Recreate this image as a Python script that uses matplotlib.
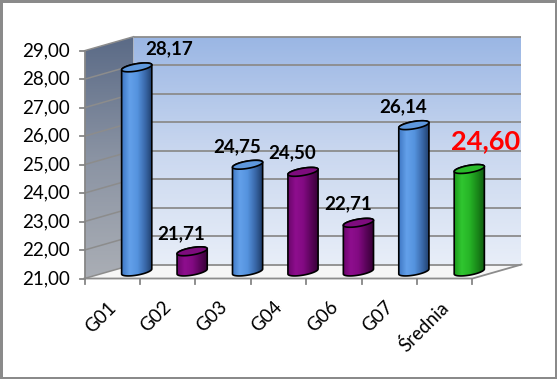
import numpy as np
import matplotlib
matplotlib.use("Agg")
import matplotlib.pyplot as plt
from matplotlib.patches import Polygon, Rectangle
from matplotlib.colors import LinearSegmentedColormap

# ---------------- data ----------------
categories = ["G01", "G02", "G03", "G04", "G06", "G07", "Średnia"]
values = [28.17, 21.71, 24.75, 24.50, 22.71, 26.14, 24.60]
value_labels = ["28,17", "21,71", "24,75", "24,50", "22,71", "26,14", "24,60"]
groups = ["blue", "purple", "blue", "purple", "purple", "blue", "green"]
y_ticks = [21, 22, 23, 24, 25, 26, 27, 28, 29]
y_tick_labels = ["21,00", "22,00", "23,00", "24,00", "25,00", "26,00", "27,00", "28,00", "29,00"]

# ---------------- styles / layout ----------------
label_offsets_px = [(32, 18.5), (-11, 18), (-10.5, 18), (-11, 19), (-10.5, 19), (-10.5, 18), (16, 28)]
label_styles = [dict(color="black", size=13.5)] * 6 + [dict(color="#ff0000", size=19.5)]
body_stops = {
    "blue": ["#3f78c4", "#63a0ea", "#5593de", "#3a69aa", "#1d3a64"],
    "purple": ["#6a066a", "#8e0e8e", "#820a82", "#5a045a", "#330033"],
    "green": ["#1c9a1c", "#30c630", "#27b527", "#1a8a1a", "#0f5a0f"],
}
top_colors = {"blue": "#5e98dd", "purple": "#7e0c7e", "green": "#2bbb2b"}

plt.rcParams["font.family"] = ["Lato", "DejaVu Sans"]

W, H = 557, 379
fig = plt.figure(figsize=(W / 100, H / 100), dpi=100)
fig.patch.set_facecolor("white")
ax = fig.add_axes([109 / W, (H - 271.5) / H, 388 / W, 227.75 / H])
n = len(categories)
ax.set_xlim(-0.5, n - 0.5)
ax.set_ylim(y_ticks[0], y_ticks[-1])
ax.axis("off")

ux = n / 388.0       # data units per pixel (x)
uy = (y_ticks[-1] - y_ticks[0]) / 227.75  # data units per pixel (y)
DX, DY = 24.5, 7.0   # half-depth offset in px
ymin, ymax = y_ticks[0], y_ticks[-1]
xl, xr = -0.5, n - 0.5


def grad_fill(xy, stops, vertical, zorder, edge=None, lw=0):
    poly = Polygon(xy, closed=True, facecolor="none", edgecolor="none", zorder=zorder, clip_on=False)
    ax.add_patch(poly)
    cmap = LinearSegmentedColormap.from_list("g", stops)
    arr = np.linspace(0, 1, 256)
    img = arr.reshape(-1, 1) if vertical else arr.reshape(1, -1)
    xs = [p[0] for p in xy]
    ys = [p[1] for p in xy]
    im = ax.imshow(img, cmap=cmap, extent=(min(xs), max(xs), min(ys), max(ys)),
                   origin="lower", aspect="auto", zorder=zorder, interpolation="bilinear")
    im.set_clip_box(fig.bbox)
    im.set_clip_path(poly)
    if edge:
        ax.add_patch(Polygon(xy, closed=True, facecolor="none", edgecolor=edge,
                             lw=lw, zorder=zorder + 0.1, joinstyle="round", clip_on=False))
    return poly


# back wall
bx0, bx1 = xl + DX * ux, xr + DX * ux
back = [(bx0, ymin + DY * uy), (bx1, ymin + DY * uy), (bx1, ymax + DY * uy), (bx0, ymax + DY * uy)]
grad_fill(back, ["#e8eef8", "#c9d7ef", "#9ab6e4"], True, 0)
# side wall
fx = xl - DX * ux
side = [(fx, ymin - DY * uy), (fx, ymax - DY * uy), (bx0, ymax + DY * uy), (bx0, ymin + DY * uy)]
grad_fill(side, ["#aaaeb5", "#8a93a3", "#5a6a86"], True, 0)
# floor
floor = [(fx, ymin - DY * uy), (xr - DX * ux, ymin - DY * uy), (bx1, ymin + DY * uy), (bx0, ymin + DY * uy)]
ax.add_patch(Polygon(floor, closed=True, facecolor="#f6f6f6", edgecolor="none", zorder=0, clip_on=False))

grid_c = "#8c8c8c"
for v in y_ticks:
    ax.plot([bx0, bx1], [v + DY * uy, v + DY * uy], color=grid_c, lw=1.3, zorder=1,
            solid_capstyle="butt", clip_on=False)
    ax.plot([fx, bx0], [v - DY * uy, v + DY * uy], color=grid_c, lw=1.1, zorder=1, clip_on=False)

# floor edges
ax.plot([fx, xr - DX * ux, bx1], [ymin - DY * uy, ymin - DY * uy, ymin + DY * uy],
        color="#8c8c8c", lw=1.3, zorder=1, clip_on=False)
# front vertical axis
ax.plot([fx, fx], [ymin - DY * uy, ymax - DY * uy], color="#868686", lw=1.3, zorder=1, clip_on=False)
for v, lab in zip(y_ticks, y_tick_labels):
    ax.plot([fx - 5 * ux, fx], [v - DY * uy, v - DY * uy], color="#868686", lw=1.3, clip_on=False)
    ax.text(fx - 15 * ux, v - DY * uy, lab, ha="right", va="center", fontsize=13.5, color="black")
for k in range(n + 1):
    xt = k - 0.5 - DX * ux
    ax.plot([xt, xt], [ymin - DY * uy, ymin - DY * uy - 5 * uy], color="#868686", lw=1.3, clip_on=False)
for i, c in enumerate(categories):
    ax.text(i - DX * ux + 1 * ux, ymin - DY * uy - 26 * uy, c, rotation=45, rotation_mode="anchor",
            ha="right", va="center", fontsize=13.5, color="black")

# cylinders
A, B, phi = 15.3, 3.6, np.deg2rad(10)
t = np.linspace(0, 2 * np.pi, 120, endpoint=False)
ex = A * np.cos(t) * np.cos(phi) - B * np.sin(t) * np.sin(phi)
ey = A * np.cos(t) * np.sin(phi) + B * np.sin(t) * np.cos(phi)


def hull(points):
    pts = sorted(map(tuple, points))
    def cross(o, a, b):
        return (a[0] - o[0]) * (b[1] - o[1]) - (a[1] - o[1]) * (b[0] - o[0])
    lower, upper = [], []
    for p in pts:
        while len(lower) >= 2 and cross(lower[-2], lower[-1], p) <= 0:
            lower.pop()
        lower.append(p)
    for p in reversed(pts):
        while len(upper) >= 2 and cross(upper[-2], upper[-1], p) <= 0:
            upper.pop()
        upper.append(p)
    return lower[:-1] + upper[:-1]


for i, (v, g) in enumerate(zip(values, groups)):
    top = np.column_stack([i + ex * ux, v + ey * uy])
    pix = np.vstack([np.column_stack([ex, ey]), np.column_stack([ex, ey + (v - ymin) / uy])])
    hp = np.array(hull(pix))
    body = np.column_stack([i + hp[:, 0] * ux, ymin + hp[:, 1] * uy])
    grad_fill(body, body_stops[g], False, 3 + i * 0.01, edge="black", lw=1.2)
    ax.add_patch(Polygon(top, closed=True, facecolor=top_colors[g], edgecolor="black",
                         lw=1.2, zorder=3.5 + i * 0.01, clip_on=False))

for i, (v, lab) in enumerate(zip(values, value_labels)):
    ox, oy = label_offsets_px[i]
    st = label_styles[i]
    ax.annotate(lab, xy=(i, v), xytext=(ox * 0.72, oy * 0.72), textcoords="offset points",
                ha="center", va="center", fontsize=st["size"], fontweight="bold",
                color=st["color"], zorder=10)

ax.set_xlim(-0.5, n - 0.5)
ax.set_ylim(ymin, ymax)

fig.patches.append(Rectangle((0, 0), 1, 1, transform=fig.transFigure, fill=False,
                             edgecolor="#8a8a8a", lw=3.6))
fig.savefig("out.png", dpi=100)
